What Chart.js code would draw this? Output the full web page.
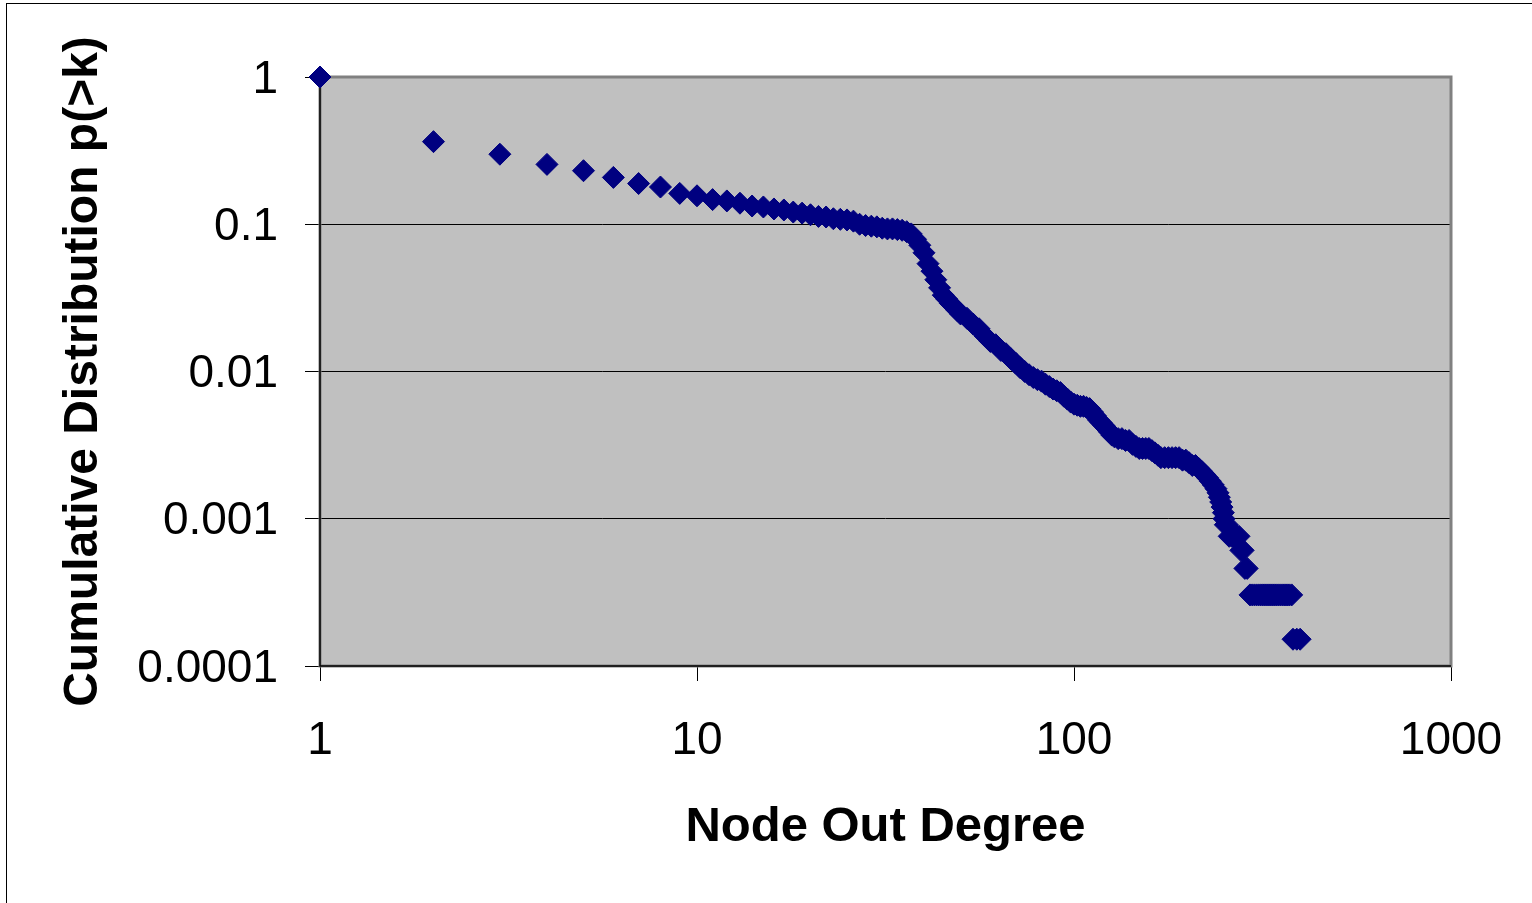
<!DOCTYPE html>
<html><head><meta charset="utf-8">
<script src="https://cdn.jsdelivr.net/npm/chart.js@4.4.1/dist/chart.umd.min.js"></script>
<style>html,body{margin:0;padding:0;background:#fff;overflow:hidden}canvas{display:block}</style>
</head><body>
<canvas id="c" width="1532" height="903"></canvas>
<script>
// Node out degree k
const degrees = [
  1,2,3,4,5,6,7,8,9,10,
  11,12,13,14,15,16,17,18,19,20,
  21,22,23,24,25,26,27,28,29,30,
  31,32,33,34,35,36,37,38,39,40,
  41,42,43,44,45,46,47,48,49,50,
  52,54,56,58,60,62,64,66,68,70,
  72,74,76,78,80,82,84,86,88,90,
  92,94,96,98,100,102,104,106,108,110,
  112,114,116,118,120,122,124,126,128,131,
  134,137,140,143,146,149,152,155,158,161,
  164,167,170,174,178,182,186,190,194,198,
  202,206,210,214,218,222,226,230,234,238,
  241,243,245,247,249,250,252,255,258,262,
  266,270,274,277,281,284,288,
  293,297,301,305,309,313,317,321,325,329,333,337,341,345,349,353,357,361,365,369,373,378,
  381,390,398
];
// Cumulative distribution p(>k)
const cumulative = [
  1.0,0.364,0.299,0.255,0.231,0.208,0.189,0.179,0.162,0.156,
  0.147,0.144,0.139,0.133,0.131,0.127,0.125,0.121,0.119,0.116,
  0.113,0.112,0.109,0.108,0.107,0.105,0.100,0.098,0.097,0.096,
  0.094,0.093,0.093,0.092,0.091,0.089,0.086,0.079,0.072,0.064,
  0.054,0.048,0.042,0.037,0.033,0.031,0.029,0.0276,0.026,0.0246,
  0.023,0.021,0.0195,0.0175,0.016,0.0152,0.0139,0.0132,0.0122,0.0114,
  0.0106,0.0100,0.0095,0.0091,0.0088,0.0086,0.0082,0.0079,0.0076,0.0074,
  0.0072,0.0068,0.0065,0.0062,0.0060,0.0059,0.0058,0.0058,0.0057,0.0056,
  0.0053,0.0050,0.0047,0.0045,0.0043,0.0041,0.0039,0.0037,0.0036,0.0035,
  0.0035,0.0034,0.0034,0.0032,0.0031,0.0030,0.0030,0.0030,0.0030,0.0029,
  0.0028,0.0027,0.0026,0.0026,0.0026,0.0026,0.0026,0.0026,0.0025,0.0025,
  0.0024,0.0023,0.0023,0.0022,0.0021,0.0020,0.0019,0.0018,0.0017,0.0016,
  0.0015,0.0014,0.0013,0.0012,0.0011,0.0010,0.00091,0.00091,0.00076,0.00076,
  0.00076,0.00076,0.00076,0.00061,0.00061,0.00046,0.00046,
  0.000304,0.000304,0.000304,0.000304,0.000304,0.000304,0.000304,0.000304,0.000304,0.000304,0.000304,
  0.000304,0.000304,0.000304,0.000304,0.000304,0.000304,0.000304,0.000304,0.000304,0.000304,0.000304,
  0.000152,0.000152,0.000152
];
const xTickValues = [1, 10, 100, 1000];
const xTickLabels = ['1', '10', '100', '1000'];
const yTickValues = [0.0001, 0.001, 0.01, 0.1, 1];
const yTickLabels = ['0.0001', '0.001', '0.01', '0.1', '1'];
const xTitle = 'Node Out Degree';
const yTitle = 'Cumulative Distribution p(>k)';

const points = degrees.map((k, i) => ({x: k, y: cumulative[i]}));

const framePlugin = {
  id: 'frame',
  beforeDraw(chart) {
    const {ctx, chartArea: a} = chart;
    ctx.save();
    ctx.fillStyle = '#ffffff';
    ctx.fillRect(0, 0, chart.width, chart.height);
    ctx.fillStyle = '#C0C0C0';
    ctx.fillRect(a.left, a.top, a.right - a.left, a.bottom - a.top);
    ctx.strokeStyle = '#000000';
    ctx.lineWidth = 1;
    ctx.strokeRect(6.5, 3.5, chart.width + 10, chart.height + 10);
    ctx.restore();
  },
  beforeDatasetsDraw(chart) {
    const {ctx, chartArea: a} = chart;
    ctx.save();
    ctx.strokeStyle = '#808080';
    ctx.lineWidth = 3;
    ctx.strokeRect(a.left, a.top, a.right - a.left, a.bottom - a.top);
    ctx.strokeStyle = '#000000';
    ctx.lineWidth = 1.5;
    ctx.beginPath();
    ctx.moveTo(a.left, a.top);
    ctx.lineTo(a.left, a.bottom);
    ctx.lineTo(a.right, a.bottom);
    ctx.stroke();
    ctx.restore();
  }
};

new Chart(document.getElementById('c'), {
  type: 'scatter',
  data: {
    datasets: [{
      data: points,
      pointStyle: 'rectRot',
      pointRadius: 11,
      pointHoverRadius: 11,
      borderWidth: 1,
      backgroundColor: '#000080',
      borderColor: '#000080',
      showLine: false,
      clip: false
    }]
  },
  options: {
    responsive: false,
    devicePixelRatio: 1,
    animation: false,
    events: [],
    layout: {padding: {left: 0, top: 77, right: 81, bottom: 0}},
    plugins: {legend: {display: false}, tooltip: {enabled: false}},
    scales: {
      x: {
        type: 'logarithmic',
        min: 1, max: 1000,
        afterBuildTicks: s => { s.ticks = xTickValues.map(v => ({value: v})); },
        afterFit: s => { s.height = 237; s.paddingLeft = 0; s.paddingRight = 0; },
        grid: {display: true, drawOnChartArea: false, drawTicks: true, tickLength: 15, color: '#000000', lineWidth: 1},
        border: {display: false},
        ticks: {
          autoSkip: false, maxRotation: 0, padding: 33, color: '#000000',
          font: {family: '"Liberation Sans", Arial, sans-serif', size: 46},
          callback: v => xTickLabels[xTickValues.indexOf(v)]
        },
        title: {
          display: true, text: xTitle, color: '#000000',
          font: {family: '"Liberation Sans", Arial, sans-serif', size: 49, weight: 'bold'},
          padding: {top: 0, bottom: 46}
        }
      },
      y: {
        type: 'logarithmic',
        min: 0.0001, max: 1,
        afterBuildTicks: s => { s.ticks = yTickValues.map(v => ({value: v})); },
        afterFit: s => { s.width = 320; s.paddingTop = 0; s.paddingBottom = 0; },
        grid: {display: true, drawOnChartArea: true, drawTicks: true, tickLength: 15, color: '#000000', lineWidth: 1},
        border: {display: false},
        ticks: {
          autoSkip: false, padding: 27, labelOffset: 3, color: '#000000',
          font: {family: '"Liberation Sans", Arial, sans-serif', size: 46},
          callback: v => yTickLabels[yTickValues.indexOf(v)]
        },
        title: {
          display: true, text: yTitle, color: '#000000',
          font: {family: '"Liberation Sans", Arial, sans-serif', size: 48, weight: 'bold'},
          padding: {top: 55, bottom: 0}
        }
      }
    }
  },
  plugins: [framePlugin]
});
</script>
</body></html>
